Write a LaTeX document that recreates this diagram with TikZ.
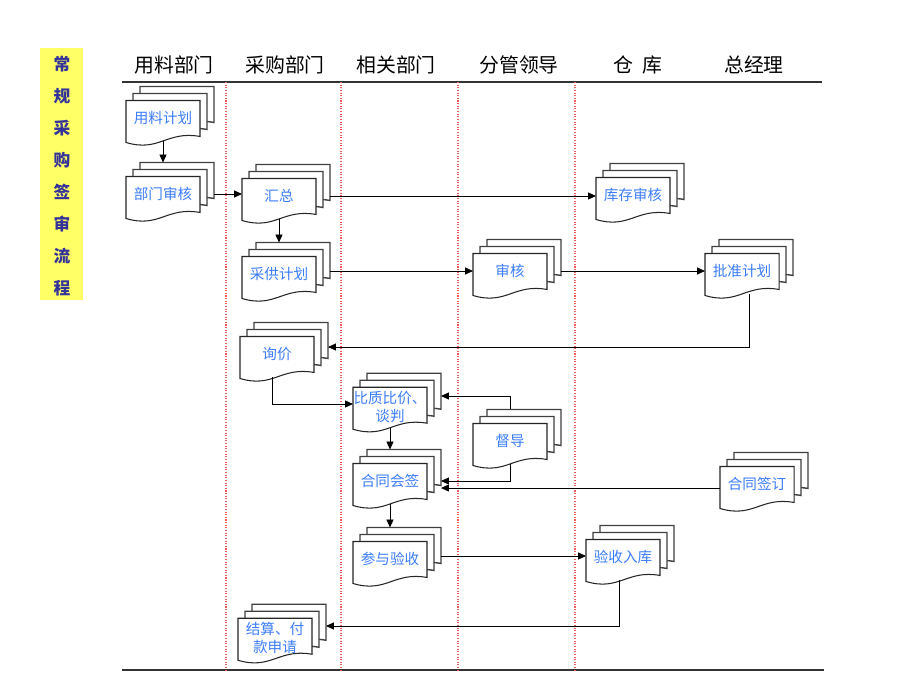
\documentclass[tikz,border=0pt]{standalone}
\usepackage{fontspec}
\setmainfont{Noto Sans CJK SC}
\usetikzlibrary{calc,shadows,arrows.meta}

\definecolor{doctext}{RGB}{60,125,250}
\definecolor{sidetext}{RGB}{51,51,153}
\definecolor{sidefill}{RGB}{255,255,102}
\definecolor{lanered}{RGB}{240,90,90}

% page with a wavy lower edge, the text sits in the rectangle part
\def\docdrop{0.84cm}
\makeatletter
\pgfdeclareshape{wavedoc}{
  \inheritsavedanchors[from=rectangle]
  \inheritanchorborder[from=rectangle]
  \inheritanchor[from=rectangle]{center}
  \inheritanchor[from=rectangle]{north}
  \inheritanchor[from=rectangle]{south}
  \inheritanchor[from=rectangle]{east}
  \inheritanchor[from=rectangle]{west}
  \inheritanchor[from=rectangle]{north east}
  \inheritanchor[from=rectangle]{north west}
  \inheritanchor[from=rectangle]{south east}
  \inheritanchor[from=rectangle]{south west}
  \anchor{page south}{%
    \southwest \pgf@xa=\pgf@x
    \northeast \pgf@x=.5\pgf@x \advance\pgf@x by .5\pgf@xa
    \advance\pgf@y by -\docdrop
    \advance\pgf@y by 0.02cm
  }
  \backgroundpath{%
    \southwest \edef\wvd@l{\the\pgf@x}%
    \northeast \edef\wvd@r{\the\pgf@x}\edef\wvd@t{\the\pgf@y}%
    \pgfmathsetlengthmacro\wvd@b{\wvd@t-\docdrop}%
    \pgfmathsetlengthmacro\wvd@w{\wvd@r-\wvd@l}%
    \pgfpathmoveto{\pgfpoint{\wvd@l}{\wvd@t}}%
    \pgfpathlineto{\pgfpoint{\wvd@r}{\wvd@t}}%
    \pgfpathlineto{\pgfpoint{\wvd@r}{\wvd@b+0.12cm}}%
    \pgfpathcurveto{\pgfpoint{\wvd@l+0.55*\wvd@w}{\wvd@b+0.24cm}}%
      {\pgfpoint{\wvd@l+0.45*\wvd@w}{\wvd@b-0.2cm}}%
      {\pgfpoint{\wvd@l}{\wvd@b}}%
    \pgfpathclose
  }
}
\makeatother

\begin{document}
\begin{tikzpicture}[x=0.02cm,y=-0.02cm,
  docpage/.style={shape=wavedoc, draw=black!85, line width=0.6pt, fill=white,
    text=doctext, font=\fontsize{8.3}{10.2}\selectfont, align=center,
    minimum width=1.46cm, minimum height=0.68cm, inner xsep=0pt, inner ysep=2pt,
    copy shadow={shadow xshift=0.28cm, shadow yshift=0.28cm, fill=white, draw=black!75, line width=0.8pt},
    copy shadow={shadow xshift=0.14cm, shadow yshift=0.14cm, fill=white, draw=black!75, line width=0.8pt}},
  flow/.style={-{Triangle[length=4.5pt,width=4pt]}, line width=0.45pt},
  lane/.style={lanered, line width=0.6pt, dash pattern=on 0.6pt off 0.9pt},
  lanehead/.style={font=\fontsize{11.3}{13}\selectfont}]
  \useasboundingbox (0,0) rectangle (920,690);

  % side title
  \fill[sidefill] (40,48) rectangle (83,300);
  \foreach \c [count=\i] in {常,规,采,购,签,审,流,程}
    \node[text=sidetext, font=\bfseries\fontsize{9.5}{10}\selectfont] (side\i) at (62,32+32*\i) {\c};

  % lanes
  \node[lanehead] (h1) at (174,65) {用料部门};
  \node[lanehead] (h2) at (285,65) {采购部门};
  \node[lanehead] (h3) at (396,65) {相关部门};
  \node[lanehead] (h4) at (519,65) {分管领导};
  \node[lanehead] (h5) at (638,65) {仓\hspace{5pt}库};
  \node[lanehead] (h6) at (754,65) {总经理};
  \draw[black!80, line width=0.6pt] (122,82) -- (822,82);
  \draw[black!80, line width=0.6pt] (122,670) -- (824,670);
  \foreach \x in {226,341,458,575}
    \draw[lane] (\x,82) -- (\x,670);

  % documents
  \node[docpage] (plan) at (163,118) {用料计划};
  \node[docpage] (deptchk) at (163,194) {部门审核};
  \node[docpage] (summary) at (279,196) {汇总};
  \node[docpage] (stockchk) at (633,195) {库存审核};
  \node[docpage] (supply) at (279,274) {采供计划};
  \node[docpage] (review) at (510,271) {审核};
  \node[docpage] (approve) at (742,271) {批准计划};
  \node[docpage] (inquiry) at (277,354) {询价};
  \node[docpage] (compare) at (390,407) {比质比价、\\谈判};
  \node[docpage] (supervise) at (510,441) {督导};
  \node[docpage] (contract) at (390,481) {合同会签};
  \node[docpage] (signed) at (757,484) {合同签订};
  \node[docpage] (accept) at (390,559) {参与验收};
  \node[docpage] (storein) at (623,557) {验收入库};
  \node[docpage] (settle) at (275,638) {结算、付\\款申请};

  % flow
  \coordinate (acceptout) at ($(accept.east)+(14,-3)$);
  \draw[flow] (plan.page south) -- ($(deptchk.north)+(0,-14)$);
  \draw[flow] ($(deptchk.east)+(14,0)$) -- (deptchk.east -| summary.west);
  \draw[flow] ($(summary.east)+(14,0)$) -- (summary.east -| stockchk.west);
  \draw[flow] (summary.page south) -- ($(supply.north)+(0,-14)$);
  \draw[flow] ($(supply.east |- review.west)+(14,0)$) -- (review.west);
  \draw[flow] ($(review.east)+(14,0)$) -- (review.east -| approve.west);
  \draw[flow] ($(approve.page south)+(7,0)$) |- ($(inquiry.east)+(14,-7)$);
  \draw[flow] ($(inquiry.page south)+(-5,0)$) |- ($(compare.west)+(0,-3)$);
  \draw[flow] ($(supervise.north)+(0,-14)$) |- ($(compare.east)+(14,-11)$);
  \draw[flow] (supervise.page south) |- ($(contract.east)+(14,0)$);
  \draw[flow] ($(signed.west)+(0,4)$) -- ($(contract.east)+(14,7)$);
  \draw[flow] (compare.page south) -- ($(contract.north)+(0,-14)$);
  \draw[flow] (contract.page south) -- ($(accept.north)+(0,-14)$);
  \draw[flow] (acceptout) -- (acceptout -| storein.west);
  \draw[flow] ($(storein.page south)+(-4,0)$) |- ($(settle.east)+(14,-12)$);
\end{tikzpicture}
\end{document}
